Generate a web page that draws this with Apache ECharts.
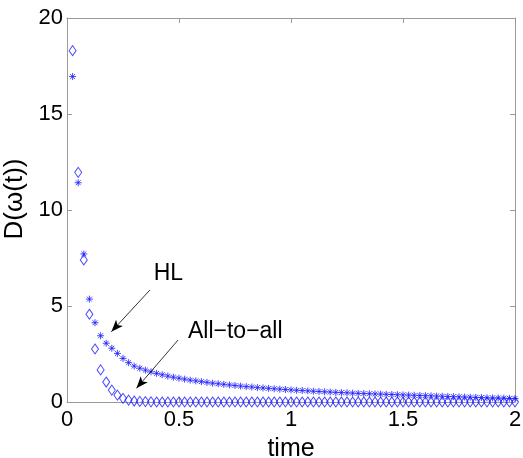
<!DOCTYPE html>
<html><head><meta charset="utf-8">
<script src="https://cdn.jsdelivr.net/npm/echarts@6/dist/echarts.min.js"></script>
<style>html,body{margin:0;padding:0;background:#fff}#c{width:523px;height:458px}</style>
</head><body><div id="c"></div>
<script>
const times = [0.025,0.05,0.075,0.1,0.125,0.15,0.175,0.2,0.225,0.25,0.275,0.3,0.325,0.35,0.375,0.4,0.425,0.45,0.475,0.5,
0.525,0.55,0.575,0.6,0.625,0.65,0.675,0.7,0.725,0.75,0.775,0.8,0.825,0.85,0.875,0.9,0.925,0.95,0.975,1.0,
1.025,1.05,1.075,1.1,1.125,1.15,1.175,1.2,1.225,1.25,1.275,1.3,1.325,1.35,1.375,1.4,1.425,1.45,1.475,1.5,
1.525,1.55,1.575,1.6,1.625,1.65,1.675,1.7,1.725,1.75,1.775,1.8,1.825,1.85,1.875,1.9,1.925,1.95,1.975,2.0];
const hl = [16.95,11.42,7.71,5.36,4.13,3.45,3.06,2.80,2.53,2.27,2.05,1.87,1.76,1.66,1.57,1.49,1.42,1.35,1.29,1.24,
1.19,1.14,1.10,1.06,1.02,0.98,0.95,0.92,0.89,0.86,0.83,0.80,0.78,0.75,0.73,0.71,0.69,0.67,0.65,0.63,
0.61,0.60,0.58,0.56,0.55,0.53,0.52,0.50,0.49,0.48,0.46,0.45,0.44,0.43,0.42,0.41,0.40,0.39,0.38,0.37,
0.36,0.35,0.34,0.33,0.32,0.31,0.30,0.29,0.28,0.27,0.26,0.25,0.24,0.23,0.22,0.21,0.21,0.20,0.19,0.18];
const allToAll = [18.30,11.96,7.40,4.57,2.76,1.67,1.04,0.62,0.36,0.19,0.10,0.05,0.03,0.02,0.01,0,0,0,0,0,
0,0,0,0,0,0,0,0,0,0,0,0,0,0,0,0,0,0,0,0,
0,0,0,0,0,0,0,0,0,0,0,0,0,0,0,0,0,0,0,0,
0,0,0,0,0,0,0,0,0,0,0,0,0,0,0,0,0,0,0,0];
const xTicks = [0, 0.5, 1, 1.5, 2];
const yTicks = [0, 5, 10, 15, 20];
const annotations = [
  {text: 'HL', from: [0.37, 5.83], to: [0.198, 3.66], label: [0.387, 6.09]},
  {text: 'All\u2212to\u2212all', from: [0.496, 3.23], to: [0.31, 0.71], label: [0.54, 3.06]}
];

const FONT = '"Liberation Sans", Arial, sans-serif';
const AX = '#9a9a9a';
const chart = echarts.init(document.getElementById('c'), null, {renderer: 'canvas'});
const starPath = 'path://M5,0L5,10M0,5L10,5M1.5,1.5L8.5,8.5M1.5,8.5L8.5,1.5';
const axisCommon = () => ({
  axisLine: {show: true, onZero: false, lineStyle: {color: AX, width: 1}},
  axisTick: {show: true, inside: true, length: 5, lineStyle: {color: AX}},
  splitLine: {show: false}
});
chart.setOption({
  animation: false,
  backgroundColor: '#fff',
  grid: {left: 67, right: 8, top: 18, bottom: 56, containLabel: false, outerBoundsMode: 'none'},
  xAxis: [
    Object.assign({type: 'value', position: 'bottom', min: xTicks[0], max: xTicks[xTicks.length-1], interval: 0.5,
      name: 'time', nameLocation: 'middle', nameGap: 35,
      nameTextStyle: {color: '#000', fontSize: 25, fontFamily: FONT},
      axisLabel: {color: '#000', fontSize: 22, fontFamily: FONT, margin: 7}}, axisCommon()),
    Object.assign({type: 'value', position: 'top', min: 0, max: 2, interval: 0.5, axisLabel: {show: false}}, axisCommon())
  ],
  yAxis: [
    Object.assign({type: 'value', position: 'left', min: yTicks[0], max: yTicks[yTicks.length-1], interval: 5,
      name: 'D(\u03c9(t))', nameLocation: 'middle', nameGap: 27,
      nameTextStyle: {color: '#000', fontSize: 26, fontFamily: FONT, padding: [0, 0, 0, 22]},
      axisLabel: {color: '#000', fontSize: 22, fontFamily: FONT, margin: 4}}, axisCommon()),
    Object.assign({type: 'value', position: 'right', min: 0, max: 20, interval: 5, axisLabel: {show: false}}, axisCommon())
  ],
  series: [
    {
      name: 'HL', type: 'scatter', symbol: starPath, symbolSize: 7,
      data: times.map((t, i) => [t, hl[i]]),
      itemStyle: {color: 'transparent', borderColor: '#1a1aff', borderWidth: 1},
      emphasis: {disabled: true}, z: 3
    },
    {
      name: 'All-to-all', type: 'scatter', symbol: 'diamond', symbolSize: [7, 10],
      data: times.map((t, i) => [t, allToAll[i]]),
      itemStyle: {color: 'transparent', borderColor: '#1a1aff', borderWidth: 1},
      emphasis: {disabled: true}, z: 2,
      markLine: {
        silent: true, symbol: ['none', 'arrow'], symbolSize: [7, 12],
        lineStyle: {color: '#000', width: 0.8, type: 'solid'},
        label: {show: false},
        data: annotations.map(a => [{coord: a.from}, {coord: a.to}])
      }
    }
  ]
});
const g = annotations.map(a => {
  const p = chart.convertToPixel({xAxisIndex: 0, yAxisIndex: 0}, a.label);
  return {type: 'text', x: p[0], y: p[1], style: {text: a.text, fill: '#000', font: '23px ' + FONT, verticalAlign: 'bottom'}};
});
chart.setOption({graphic: g});
</script>
</body></html>
